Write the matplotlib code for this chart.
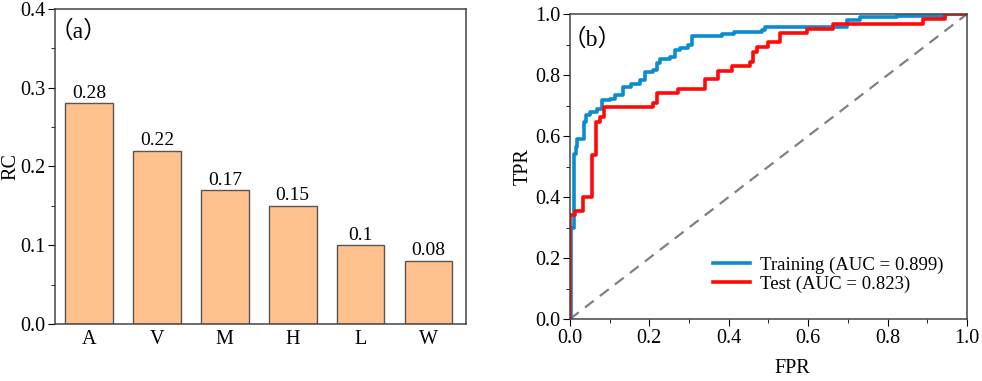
import matplotlib
matplotlib.use('Agg')
import matplotlib.pyplot as plt
from matplotlib.ticker import MultipleLocator

# bar data (panel a)
factors = ['A', 'V', 'M', 'H', 'L', 'W']
rc_values = [0.28, 0.22, 0.17, 0.15, 0.10, 0.08]
rc_labels = ['0.28', '0.22', '0.17', '0.15', '0.1', '0.08']

# ROC data (panel b)
train_fpr = [0.0, 0.003, 0.003, 0.010, 0.015, 0.019, 0.035, 0.040, 0.050, 0.067, 0.080,
             0.101, 0.113, 0.134, 0.155, 0.176, 0.189, 0.210, 0.218, 0.227, 0.252,
             0.264, 0.277, 0.297, 0.307, 0.382, 0.412, 0.483, 0.491, 0.697, 0.730,
             0.823, 0.945, 1.0]
train_tpr = [0.0, 0.27, 0.30, 0.54, 0.565, 0.59, 0.645, 0.668, 0.68, 0.69, 0.718,
             0.723, 0.734, 0.761, 0.772, 0.783, 0.811, 0.816, 0.838, 0.854, 0.86,
             0.882, 0.887, 0.898, 0.928, 0.934, 0.940, 0.948, 0.958, 0.98, 0.989,
             0.994, 1.0, 1.0]
test_fpr = [0.0, 0.0, 0.0126, 0.034, 0.055, 0.065, 0.075, 0.086, 0.21, 0.22, 0.273,
            0.340, 0.372, 0.407, 0.453, 0.460, 0.472, 0.50, 0.529, 0.596, 0.663,
            0.89, 0.945, 1.0]
test_tpr = [0.0, 0.341, 0.355, 0.401, 0.537, 0.646, 0.663, 0.696, 0.707, 0.74, 0.753,
            0.786, 0.814, 0.830, 0.844, 0.876, 0.893, 0.907, 0.938, 0.952, 0.966,
            0.985, 1.0, 1.0]
train_auc = 0.899
test_auc = 0.823

plt.rcParams['font.family'] = ['Liberation Serif', 'Noto Sans CJK SC']
plt.rcParams['font.size'] = 14.5

fig = plt.figure(figsize=(9.82, 3.81), dpi=100)
ax1 = fig.add_axes([0.056, 0.1496, 0.4185, 0.8268])
ax2 = fig.add_axes([0.5804, 0.1627, 0.4043, 0.8005])

# panel a
x = range(len(factors))
bars = ax1.bar(x, rc_values, width=0.7, color='#FFC28E', edgecolor='#555555', linewidth=1)
for b, lab in zip(bars, rc_labels):
    ax1.text(b.get_x() + b.get_width() / 2, b.get_height() + 0.002, lab,
             ha='center', va='bottom', fontsize=14)
ax1.set_xlim(-0.5, 5.55)
ax1.set_ylim(0, 0.4)
ax1.set_xticks(list(x))
ax1.set_xticklabels(factors)
ax1.yaxis.set_major_locator(MultipleLocator(0.1))
ax1.yaxis.set_minor_locator(MultipleLocator(0.05))
ax1.tick_params(axis='x', length=0, pad=4)
ax1.tick_params(axis='y', which='major', direction='out', length=5, pad=2)
ax1.tick_params(axis='y', which='minor', direction='out', length=3)
ax1.set_ylabel('RC')
ax1.yaxis.set_label_coords(-0.083, 0.5)
ax1.text(-0.012, 0.965, '（a）', transform=ax1.transAxes, ha='left', va='top', fontsize=17)

# panel b
ax2.plot([0, 1], [0, 1], color='#808080', lw=1.6, dashes=(5, 3.5))
ax2.plot(train_fpr, train_tpr, drawstyle='steps-post', color='#0A8BD2', lw=2.6,
         label='Training (AUC = %.3f)' % train_auc)
ax2.plot(test_fpr, test_tpr, drawstyle='steps-post', color='#FF0A0A', lw=2.6,
         label='Test (AUC = %.3f)' % test_auc)
ax2.set_xlim(0, 1)
ax2.set_ylim(0, 1)
for axis in (ax2.xaxis, ax2.yaxis):
    axis.set_major_locator(MultipleLocator(0.2))
    axis.set_minor_locator(MultipleLocator(0.1))
ax2.tick_params(which='major', direction='out', length=5, pad=2)
ax2.tick_params(which='minor', direction='out', length=3)
ax2.set_xlabel('FPR')
ax2.xaxis.set_label_coords(0.56, -0.132)
ax2.set_ylabel('TPR')
ax2.yaxis.set_label_coords(-0.093, 0.5)
ax2.text(-0.018, 0.952, '（b）', transform=ax2.transAxes, ha='left', va='top', fontsize=17)
ax2.legend(loc='lower left', bbox_to_anchor=(0.36, 0.085), frameon=False, fontsize=13.5,
           borderaxespad=0, borderpad=0, handlelength=2.0, handletextpad=0.5,
           labelspacing=0.1)

for ax in (ax1, ax2):
    for s in ax.spines.values():
        s.set_color('#444444')
        s.set_linewidth(1.1)

fig.savefig('out.png', dpi=100)
